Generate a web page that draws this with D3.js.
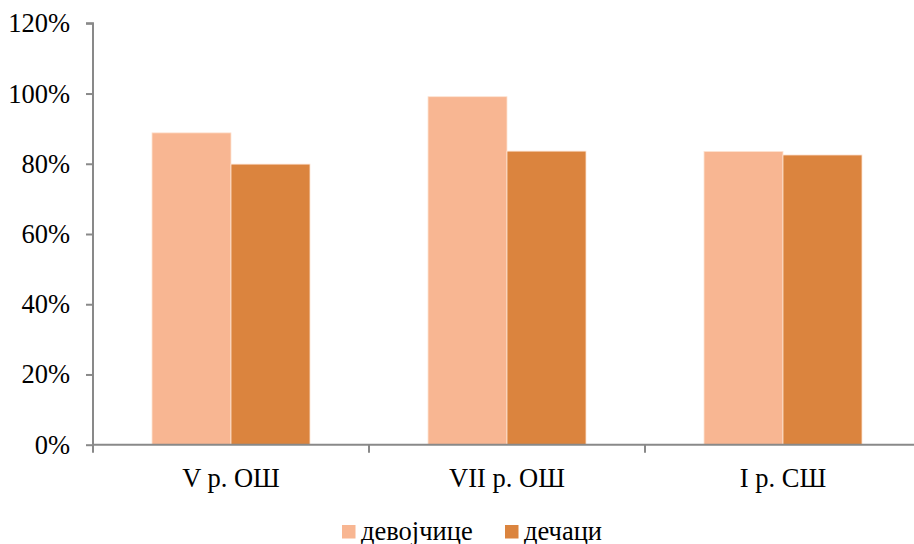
<!DOCTYPE html>
<html>
<head>
<meta charset="utf-8">
<script src="https://cdn.jsdelivr.net/npm/d3@7"></script>
<style>
  html, body { margin: 0; padding: 0; background: #fff; }
  svg { display: block; }
</style>
</head>
<body>
<svg id="chart" width="914" height="544"></svg>
<script>
// Grades and the share for each group
const categories = ["V р. ОШ", "VII р. ОШ", "I р. СШ"];
const seriesNames = ["девојчице", "дечаци"];
const girls = [0.888, 0.991, 0.835];
const boys = [0.799, 0.836, 0.825];
const yTicks = [0, 0.2, 0.4, 0.6, 0.8, 1.0, 1.2];
const colors = ["#F8B692", "#DB843E"];

const FONT = "'Liberation Serif', 'Times New Roman', serif";
const FONT_SIZE = "26.5px";
const svg = d3.select("#chart");
const plotLeft = 93, plotRight = 921, plotTop = 23.3, plotBottom = 444.7;

const x = d3.scaleBand().domain(categories).range([plotLeft, plotRight]).paddingInner(0).paddingOuter(0);
// two bars per group, centred, with wide gaps between groups
const xs = d3.scaleBand().domain(seriesNames).range([0, x.bandwidth()]).paddingInner(0).paddingOuter(0.747);
const y = d3.scaleLinear().domain([0, 1.2]).range([plotBottom, plotTop]);

const rows = categories.map((c, i) => ({ cat: c, vals: [girls[i], boys[i]] }));

// bars
const g = svg.append("g");
rows.forEach(r => {
  r.vals.forEach((v, j) => {
    g.append("rect")
      .attr("x", x(r.cat) + xs(seriesNames[j]))
      .attr("y", y(v))
      .attr("width", xs.bandwidth())
      .attr("height", y(0) - y(v))
      .attr("fill", colors[j])
      .attr("stroke", "#FDE3D2")
      .attr("stroke-width", 0.8);
  });
});

// y axis
const yAxis = d3.axisLeft(y).tickValues(yTicks).tickSize(7).tickPadding(16)
  .tickFormat(d => Math.round(d * 100) + "%");
const ya = svg.append("g").attr("transform", `translate(${plotLeft},0)`).call(yAxis);
ya.attr("font-family", null).attr("font-size", null);
ya.select(".domain").attr("stroke", "#898989").attr("stroke-width", 2).attr("d", `M-7,${plotTop}H0V${plotBottom}`);
ya.selectAll(".tick line").attr("stroke", "#898989").attr("stroke-width", 2);
ya.selectAll(".tick text").attr("fill", "#000")
  .style("font-family", FONT).style("font-size", FONT_SIZE);

// x axis
const xa = svg.append("g").attr("transform", `translate(0,${plotBottom})`);
xa.append("line").attr("x1", plotLeft).attr("x2", plotRight).attr("y1", 0).attr("y2", 0)
  .attr("stroke", "#898989").attr("stroke-width", 2);
const xTickPos = categories.map(c => x(c)).concat([x(categories[categories.length - 1]) + x.bandwidth()]);
xa.selectAll("line.tk").data(xTickPos).enter().append("line").attr("class", "tk")
  .attr("x1", d => d).attr("x2", d => d).attr("y1", 0).attr("y2", 8)
  .attr("stroke", "#898989").attr("stroke-width", 2);
xa.selectAll("text").data(categories).enter().append("text")
  .attr("x", d => x(d) + x.bandwidth() / 2)
  .attr("y", 42)
  .attr("text-anchor", "middle")
  .attr("fill", "#000")
  .style("font-family", FONT).style("font-size", FONT_SIZE)
  .text(d => d);

// legend
const legend = svg.append("g");
const legendItems = [
  { name: seriesNames[0], color: colors[0], x: 342 },
  { name: seriesNames[1], color: colors[1], x: 505 }
];
legendItems.forEach(it => {
  legend.append("rect").attr("x", it.x).attr("y", 525).attr("width", 13.5).attr("height", 13.5).attr("fill", it.color);
  legend.append("text").attr("x", it.x + 19).attr("y", 540).attr("fill", "#000")
    .style("font-family", FONT).style("font-size", FONT_SIZE).text(it.name);
});
</script>
</body>
</html>
